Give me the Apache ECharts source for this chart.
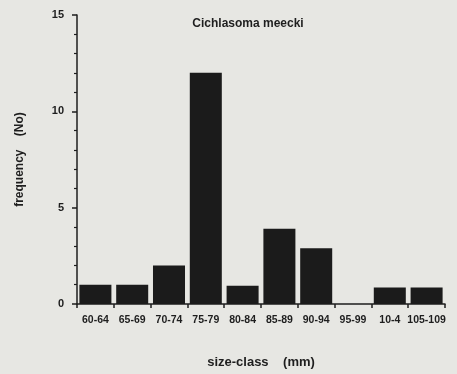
<!DOCTYPE html>
<html>
<head>
<meta charset="utf-8">
<script src="https://cdn.jsdelivr.net/npm/echarts@6/dist/echarts.min.js"></script>
<style>
  html, body { margin: 0; padding: 0; background: #e7e7e3; }
  #chart { width: 457px; height: 374px; }
</style>
</head>
<body>
<div id="chart"></div>
<script>
  // size classes as printed on the figure
  var sizeClasses = ['60-64', '65-69', '70-74', '75-79', '80-84', '85-89', '90-94', '95-99', '10-4', '105-109'];
  // frequency (No) per class
  var frequency = [1.0, 1.0, 2.0, 12.0, 0.95, 3.9, 2.9, 0, 0.85, 0.85];
  var yTicks = [0, 5, 10, 15];

  var ink = '#1e1e1e';
  var font = '"Liberation Sans", Arial, sans-serif';

  var chart = echarts.init(document.getElementById('chart'));
  chart.setOption({
    backgroundColor: '#e7e7e3',
    animation: false,
    title: {
      text: 'Cichlasoma meecki',
      left: 243,
      top: 13,
      textAlign: 'center',
      textStyle: { fontFamily: font, fontSize: 12, fontWeight: 'bold', color: ink }
    },
    grid: { left: 77, right: 12, top: 15, bottom: 69 },
    xAxis: {
      type: 'category',
      data: sizeClasses,
      name: 'size-class    (mm)',
      nameLocation: 'middle',
      nameGap: 52,
      nameTextStyle: { fontFamily: font, fontSize: 13, fontWeight: 'bold', color: ink },
      axisLine: { lineStyle: { color: ink, width: 1.5 } },
      axisTick: { show: true, length: 4, lineStyle: { color: ink, width: 1.5 } },
      axisLabel: {
        interval: 0, margin: 11,
        fontFamily: font, fontSize: 10.5, fontWeight: 'bold', color: ink
      }
    },
    yAxis: {
      type: 'value',
      min: 0,
      max: yTicks[yTicks.length - 1],
      interval: 5,
      name: 'frequency    (No)',
      nameLocation: 'middle',
      nameGap: 51,
      nameTextStyle: { fontFamily: font, fontSize: 12, fontWeight: 'bold', color: ink },
      axisLine: { show: true, lineStyle: { color: ink, width: 1.5 } },
      axisTick: { show: true, length: 5, lineStyle: { color: ink, width: 1.5 } },
      minorTick: { show: true, splitNumber: 5, length: 3, lineStyle: { color: ink, width: 1.2 } },
      splitLine: { show: false },
      axisLabel: {
        margin: 13,
        fontFamily: font, fontSize: 11, fontWeight: 'bold', color: ink
      }
    },
    series: [{
      type: 'bar',
      data: frequency,
      barCategoryGap: '13%',
      itemStyle: { color: '#1b1b1b' }
    }]
  });
</script>
</body>
</html>
